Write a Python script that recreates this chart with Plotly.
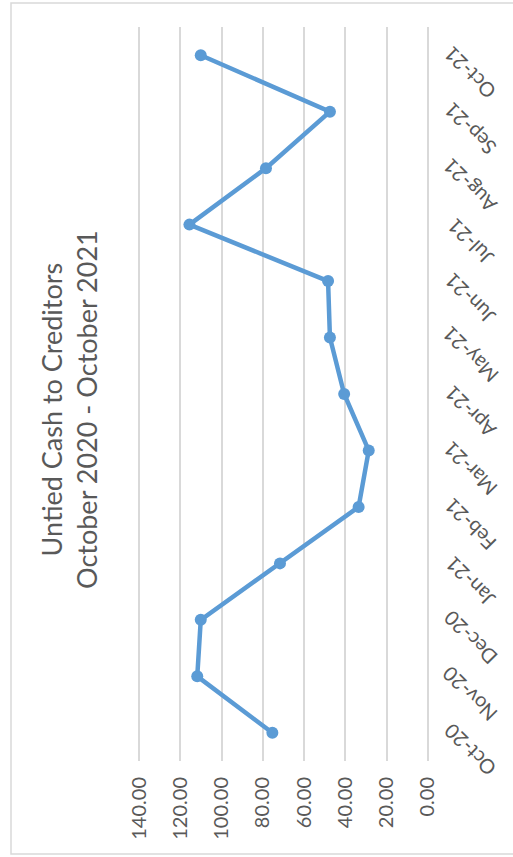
import plotly.graph_objects as go

# Monthly untied cash to creditors, Oct 2020 - Oct 2021
months = ["Oct-20", "Nov-20", "Dec-20", "Jan-21", "Feb-21", "Mar-21", "Apr-21",
          "May-21", "Jun-21", "Jul-21", "Aug-21", "Sep-21", "Oct-21"]
cash = [75.4, 111.8, 110.1, 71.7, 33.6, 28.7, 40.6, 47.5, 48.4, 115.6, 78.5, 47.5, 110.1]
value_ticks = [0, 20, 40, 60, 80, 100, 120, 140]
value_tick_text = [f"{v:.2f}" for v in value_ticks]

W, H = 513, 857
L, R, T, B = 137, 83, 27, 96
pw, ph = W - L - R, H - T - B

def px(x):
    return (x - L) / pw

def py(y):
    return (H - B - y) / ph

grey_text = "#595959"
grid = "#d9d9d9"
blue = "#5b9bd5"

fig = go.Figure(go.Scatter(
    x=cash, y=months, mode="lines+markers",
    line=dict(color=blue, width=4.5),
    marker=dict(color=blue, size=12),
    cliponaxis=False,
))

# category labels, tilted and set just outside the right edge of the plot
cat_labels = [dict(
    text=m, xref="paper", yref="y", x=px(470), y=m, yshift=-18,
    xanchor="center", yanchor="middle", textangle=-135, showarrow=False,
    font=dict(size=20, color=grey_text, family="Lato"),
) for m in months]

fig.update_layout(
    width=W, height=H,
    margin=dict(l=L, r=R, t=T, b=B, autoexpand=False),
    paper_bgcolor="white", plot_bgcolor="white",
    showlegend=False,
    font=dict(family="Lato", color=grey_text),
    xaxis=dict(
        range=[141, -1], tickvals=value_ticks, ticktext=value_tick_text,
        tickangle=-90, showgrid=True, gridcolor=grid, gridwidth=1.5,
        zeroline=False, showline=False, ticks="", ticklabelstandoff=11,
        automargin=False,
        tickfont=dict(size=20, color=grey_text, family="Lato"),
    ),
    yaxis=dict(
        type="category", categoryorder="array", categoryarray=months,
        range=[-0.5, 12.5], side="right", showticklabels=False,
        showgrid=False, zeroline=False, showline=False, ticks="",
        automargin=False,
    ),
    annotations=cat_labels + [dict(
        text="Untied Cash to Creditors<br>October 2020 - October 2021",
        xref="paper", yref="paper", x=px(69), y=py(410),
        xanchor="center", yanchor="middle", textangle=-90, showarrow=False,
        font=dict(size=27, color=grey_text, family="Lato"),
    )],
    shapes=[dict(
        type="rect", xref="paper", yref="paper",
        x0=px(11), x1=px(530), y0=py(854), y1=py(3),
        line=dict(color=grid, width=1.5), layer="below",
    )],
)

fig.write_html("out.html")
